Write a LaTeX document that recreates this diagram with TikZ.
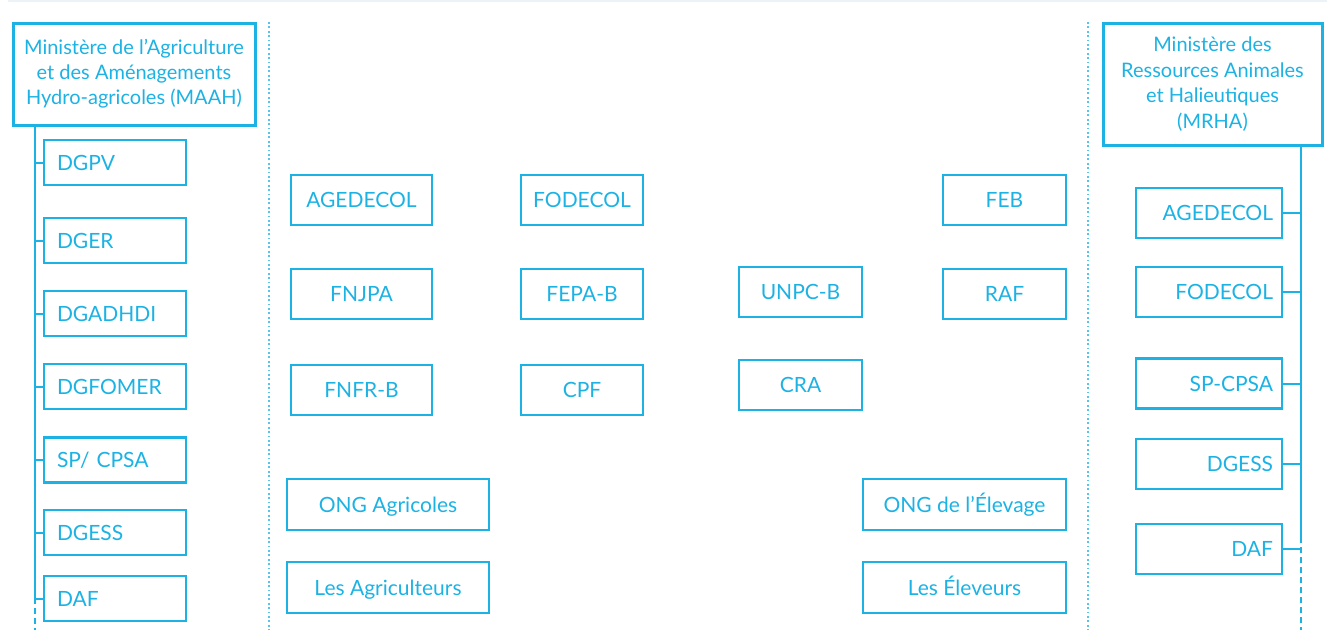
\documentclass[tikz,border=0pt]{standalone}
\usepackage{fontspec}
\setmainfont{Lato}
\usetikzlibrary{positioning,calc}
\definecolor{bleu}{RGB}{28,178,228}
\definecolor{filet}{RGB}{236,243,248}

\begin{document}
\begin{tikzpicture}
            [x=1pt, y=-1pt,
            every node/.style={text=bleu, font=\fontsize{21}{25}\selectfont},
            box/.style={draw=bleu, line width=2pt, rectangle, inner sep=0pt,
                minimum height=50pt, text height=15pt, text depth=0pt},
            ministere/.style={draw=bleu, line width=3pt, align=center, inner sep=0pt},
            gauche/.style={box, line width=2.6pt, minimum height=45pt,
                text width=116pt, align=left, inner xsep=13pt},
            droite/.style={box, line width=2.6pt, text width=128pt,
                align=right, inner xsep=9pt},
            trait/.style={draw=bleu, line width=2pt},
            pointille/.style={draw=bleu!75, line width=1.8pt, dash pattern=on 1.8pt off 2.6pt}
            ]

            \useasboundingbox (0,0) rectangle (1327,630);
            \draw [filet, line width=2pt] (8,1) -- (1327,1);

            % Ministeres
            \node (maah) [ministere, minimum width=242pt, minimum height=102pt,
                font=\fontsize{20}{25}\selectfont] at (134,74)
                {Ministère de l’Agriculture\\et des Aménagements\\Hydro-agricoles (MAAH)};
            \node (mrha) [ministere, minimum width=219pt, minimum height=122pt,
                font=\fontsize{20}{25.7}\selectfont] at (1212.5,84)
                {Ministère des\\Ressources Animales\\et Halieutiques\\(MRHA)};

            % Directions MAAH
            \node (dgpv) [gauche] at (115,162.5) {DGPV};
            \node (dger) [gauche] at (115,240.5) {DGER};
            \node (dgadhdi) [gauche] at (115,313.5) {DGADHDI};
            \node (dgfomer) [gauche] at (115,386.5) {DGFOMER};
            \node (spcpsag) [gauche] at (115,460) {SP/ CPSA};
            \node (dgessg) [gauche] at (115,532.5) {DGESS};
            \node (dafg) [gauche] at (115,598.5) {DAF};

            % Directions MRHA
            \node (agedecold) [droite] at (1209,213) {AGEDECOL};
            \node (fodecold) [droite] at (1209,292) {FODECOL};
            \node (spcpsad) [droite] at (1209,383.5) {SP-CPSA};
            \node (dgessd) [droite] at (1209,464) {DGESS};
            \node (dafd) [droite] at (1209,549) {DAF};

            % Acteurs au centre
            \node (agedecol) [box, minimum width=141pt] at (361.5,200) {AGEDECOL};
            \node (fnjpa) [box, minimum width=141pt, below=42pt of agedecol] {FNJPA};
            \node (fnfrb) [box, minimum width=141pt, below=44pt of fnjpa] {FNFR-B};
            \node (fodecol) [box, minimum width=122pt] at (582,200) {FODECOL};
            \node (fepab) [box, minimum width=122pt, below=42pt of fodecol] {FEPA-B};
            \node (cpf) [box, minimum width=122pt, below=44pt of fepab] {CPF};
            \node (unpcb) [box, minimum width=123pt] at (800.5,292) {UNPC-B};
            \node (cra) [box, minimum width=123pt, below=41pt of unpcb] {CRA};
            \node (feb) [box, minimum width=123pt] at (1004.5,200) {FEB};
            \node (raf) [box, minimum width=123pt, below=42pt of feb] {RAF};

            \node (ongagri) [box, minimum width=202pt, minimum height=51pt] at (388,504.5) {ONG Agricoles};
            \node (agri) [box, minimum width=202pt, minimum height=51pt, below=30pt of ongagri] {Les Agriculteurs};
            \node (ongelev) [box, minimum width=203pt, minimum height=51pt] at (964.5,504.5) {ONG de l’Élevage};
            \node (elev) [box, minimum width=203pt, minimum height=51pt, below=30pt of ongelev] {Les Éleveurs};

            % Separations
            \coordinate (sepg) at (269,22);
            \coordinate (sepgb) at (269,630);
            \coordinate (sepd) at (1088,22);
            \coordinate (sepdb) at (1088,630);
            \draw [pointille] (sepg) -- (sepgb);
            \draw [pointille] (sepd) -- (sepdb);

            % Rattachements
            \coordinate (gspine) at ($(maah.south west)+(23,0)$);
            \coordinate (gfin) at (gspine |- 0,598);
            \coordinate (gbas) at (gspine |- 0,630);
            \draw [trait] (gspine) -- (gfin);
            \draw [trait, dash pattern=on 6pt off 4pt] (gfin) -- (gbas);
            \foreach \n in {dgpv, dger, dgadhdi, dgfomer, spcpsag, dgessg, dafg}{
                \draw [trait] (\n.west) -- (\n.west -| gspine);
            }

            \coordinate (dspine) at ($(mrha.south east)+(-23,0)$);
            \coordinate (dfin) at (dspine |- 0,537);
            \coordinate (dbas) at (dspine |- 0,630);
            \draw [trait] (dspine) -- (dfin);
            \draw [trait, dash pattern=on 6pt off 4pt] (dfin) -- (dbas);
            \foreach \n in {agedecold, fodecold, spcpsad, dgessd, dafd}{
                \draw [trait] (\n.east) -- (\n.east -| dspine);
            }

        \end{tikzpicture}
\end{document}
